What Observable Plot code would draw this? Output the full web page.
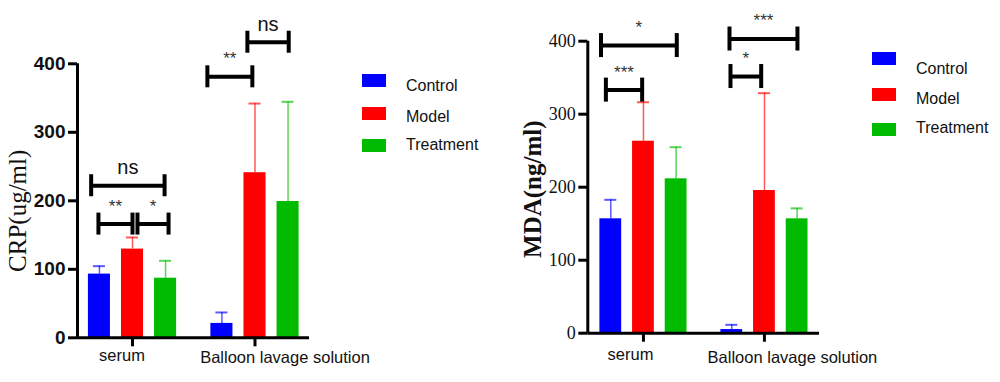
<!DOCTYPE html>
<html><head><meta charset="utf-8">
<script src="https://cdn.jsdelivr.net/npm/d3@7"></script>
<script src="https://cdn.jsdelivr.net/npm/@observablehq/plot@0.6"></script>
<style>
body{margin:0;background:#fff;}
#wrap{position:relative;width:1000px;height:382px;overflow:hidden;background:#fff;}
.panel{position:absolute;top:0;}
.lg{position:absolute;font-family:"Liberation Sans",Arial,sans-serif;font-size:16px;line-height:16px;color:#111;white-space:nowrap;}
.sw{position:absolute;width:24px;height:13px;}
</style></head>
<body><div id="wrap"></div>
<script>
// ---- data ----
const groups = ["serum", "Balloon lavage solution"];
const series = ["Control", "Model", "Treatment"];
const colors = ["#0000ff", "#ff0000", "#00bb00"];
const yTicks = [0, 100, 200, 300, 400];
const crpMean = [[93, 129.5, 87], [21, 241, 199]];
const crpSD   = [[11.6, 17, 25.4], [16, 101, 145.5]];
const mdaMean = [[156.7, 263, 211.5], [5, 195.5, 156.7]];
const mdaSD   = [[26, 53.4, 43.3], [6.5, 133.3, 14.3]];
// significance brackets: group, from/to in bar slots (-1 Control, 0 Model, 1 Treatment), y value, label
const crpBrackets = [
  {group: 0, from: -1.25, to: 0.97, y: 222, label: "ns"},
  {group: 0, from: -1.03, to: 0.0, y: 166, label: "**"},
  {group: 0, from: 0.15, to: 1.09, y: 166, label: "*"},
  {group: 1, from: -1.44, to: -0.08, y: 381, label: "**"},
  {group: 1, from: -0.23, to: 1.02, y: 431.5, label: "ns"}
];
const mdaBrackets = [
  {group: 0, from: -1.3, to: 1.02, y: 394, label: "*"},
  {group: 0, from: -1.15, to: -0.04, y: 333, label: "***"},
  {group: 1, from: -1.07, to: 1.01, y: 403, label: "***"},
  {group: 1, from: -1.04, to: -0.1, y: 351.6, label: "*"}
];

const slot = 0.27, hw = 0.09;
const pos = (g, s) => g + s * slot;

function rowsOf(mean, sd) {
  const r = [];
  groups.forEach((g, gi) => series.forEach((s, si) => r.push({gi, si, series: s, mean: mean[gi][si], sd: sd[gi][si]})));
  return r;
}

function panel(cfg) {
  const rows = rowsOf(cfg.mean, cfg.sd);
  const br = cfg.brackets;
  const xd = cfg.xDomain;
  const bx = d => pos(d.gi, d.si - 1);
  const marks = [
    Plot.ruleX(rows, {x: bx, y1: "mean", y2: d => d.mean + d.sd, stroke: "series", strokeWidth: 1.5, strokeOpacity: 0.65}),
    Plot.ruleY(rows, {x1: bx, x2: bx, y: d => d.mean + d.sd, insetLeft: 6, insetRight: 6, stroke: "series", strokeWidth: 2, strokeOpacity: 0.65}),
    Plot.rectY(rows, {x1: d => bx(d) - hw, x2: d => bx(d) + hw, y: "mean", fill: "series"}),
    // brackets
    Plot.ruleY(br, {x1: d => pos(d.group, d.from), x2: d => pos(d.group, d.to), y: "y", stroke: "#000", strokeWidth: 4}),
    Plot.ruleX(br, {x: d => pos(d.group, d.from), y1: "y", y2: "y", insetTop: cfg.tickH, insetBottom: cfg.tickH, stroke: "#000", strokeWidth: 4}),
    Plot.ruleX(br, {x: d => pos(d.group, d.to), y1: "y", y2: "y", insetTop: cfg.tickH, insetBottom: cfg.tickH, stroke: "#000", strokeWidth: 4}),
    Plot.text(br, {x: d => pos(d.group, (d.from + d.to) / 2), y: "y", text: "label", dy: -18,
      fontSize: d => d.label === "ns" ? 20 : 17, fill: d => d.label === "ns" ? "#111" : "#333",
      fontFamily: "Liberation Sans, Arial, sans-serif"}),
    // axes
    Plot.axisY({ticks: yTicks, tickSize: 9, tickPadding: 3, strokeWidth: 3, label: null,
      fontSize: cfg.tickFont.size, fontWeight: cfg.tickFont.weight, fontFamily: cfg.tickFont.family, fill: "#111"}),
    Plot.ruleX([xd[0]], {y1: yTicks[0], y2: yTicks[yTicks.length - 1], strokeWidth: 3}),
    Plot.ruleY([0], {strokeWidth: 3}),
    Plot.ruleX([0, 1], {y1: 0, y2: 0, insetTop: 0, insetBottom: -9, strokeWidth: 3}),
    Plot.text([groups[0]], {x: () => 0, text: d => d, frameAnchor: "bottom", dx: cfg.lab[0][0], dy: cfg.lab[0][1],
      fontSize: 16.5, fill: "#111", fontFamily: "Liberation Sans, Arial, sans-serif"}),
    Plot.text([groups[1]], {x: () => 1, text: d => d, frameAnchor: "bottom", dx: cfg.lab[1][0], dy: cfg.lab[1][1],
      fontSize: 16.5, fill: "#111", fontFamily: "Liberation Sans, Arial, sans-serif"}),
    Plot.text([cfg.title], {frameAnchor: "left", textAnchor: "middle", lineAnchor: "middle", rotate: -90,
      dx: cfg.titlePos[0], dy: cfg.titlePos[1], text: d => d,
      fontSize: 25, fontWeight: cfg.titleWeight, fill: "#111", fontFamily: "Liberation Serif, Times New Roman, serif"})
  ];
  return Plot.plot({
    width: 500, height: 382,
    marginLeft: cfg.m[0], marginRight: cfg.m[1], marginTop: cfg.m[2], marginBottom: cfg.m[3],
    x: {domain: xd, axis: null},
    y: {domain: [0, 400], axis: null},
    color: {domain: series, range: colors},
    style: {background: "transparent", overflow: "visible"},
    marks
  });
}

const wrap = document.getElementById("wrap");
const left = panel({
  mean: crpMean, sd: crpSD, brackets: crpBrackets, xDomain: [-0.449, 1.445],
  m: [77, 191, 63.3, 44.7], tickH: 11,
  tickFont: {size: 19, weight: "bold", family: "Liberation Sans, Arial, sans-serif"},
  lab: [[-10.5, 23], [30, 25.5]],
  title: "CRP(ug/ml)", titlePos: [-60, 10], titleWeight: "normal"
});
const right = panel({
  mean: mdaMean, sd: mdaSD, brackets: mdaBrackets, xDomain: [-0.46, 1.455],
  m: [87.3, 181, 40.7, 49.3], tickH: 12,
  tickFont: {size: 18, weight: "normal", family: "Liberation Serif, Times New Roman, serif"},
  lab: [[-13, 26.5], [28, 30]],
  title: "MDA(ng/ml)", titlePos: [-55, 2], titleWeight: "bold"
});
left.classList.add("panel"); left.style.left = "0px";
right.classList.add("panel"); right.style.left = "500px";
wrap.appendChild(left); wrap.appendChild(right);

// legends (HTML)
function legend(swX, swY, labX, labY) {
  series.forEach((s, i) => {
    const sw = document.createElement("div");
    sw.className = "sw"; sw.style.left = swX + "px"; sw.style.top = swY[i] + "px"; sw.style.background = colors[i];
    wrap.appendChild(sw);
    const lb = document.createElement("div");
    lb.className = "lg"; lb.style.left = labX + "px"; lb.style.top = (labY[i] - 8) + "px"; lb.textContent = s;
    wrap.appendChild(lb);
  });
}
legend(362, [74, 107, 139], 406, [86, 116.5, 145]);
legend(872, [52, 87.5, 123], 916, [68.5, 98.5, 127.5]);
</script>
</body></html>
